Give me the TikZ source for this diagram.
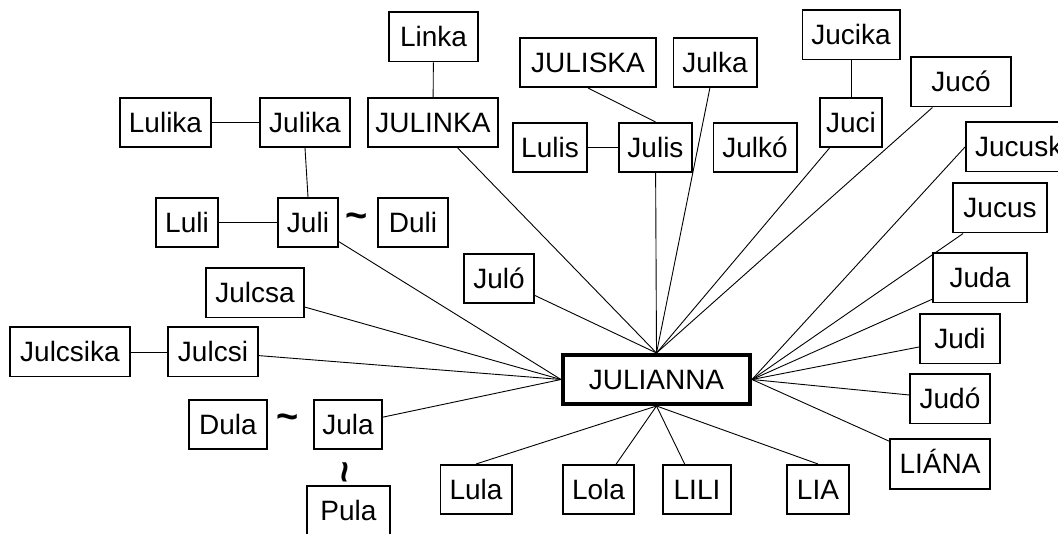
\documentclass[tikz,border=0pt]{standalone}
\usepackage{fontspec}
\setmainfont{Liberation Sans}
\begin{document}
\begin{tikzpicture}[x=1pt,y=-1pt,
  bx/.style={draw,line width=1.8pt,fill=white,inner sep=0pt,minimum height=49.2pt,
    font=\fontsize{28}{34}\selectfont,text height=20pt,text depth=0pt},
  conn/.style={line width=0.9pt},
  tl/.style={inner sep=0pt,font=\fontsize{38}{40}\selectfont\bfseries}]
\useasboundingbox (0,0) rectangle (1058,534);
\clip (0,0) rectangle (1058,534);
\newcommand\bx[5]{\node[bx,minimum width={#4pt-1.8pt}] (#1) at (#2,#3) {#5};}
% boxes
\bx{linka}{433.5}{37}{91}{Linka}
\bx{julinka}{433}{122.5}{132}{JULINKA}
\bx{juliska}{588}{62.5}{138}{JULISKA}
\bx{julka}{715}{62.5}{85}{Julka}
\bx{jucika}{851}{35}{99}{Jucika}
\bx{juci}{851}{122.5}{64}{Juci}
\bx{juco}{961}{82}{102}{Jucó}
\bx{lulika}{165.5}{122.5}{93}{Lulika}
\bx{julika}{305}{122.5}{92}{Julika}
\bx{lulis}{550}{147.5}{76}{Lulis}
\bx{julis}{655.5}{147.5}{75}{Julis}
\bx{julko}{755}{147.5}{85}{Julkó}
\bx{jucusk}{1026.5}{147}{123}{Jucuska}
\bx{jucus}{1000}{208}{96}{Jucus}
\bx{juda}{980}{278}{96}{Juda}
\bx{judi}{960}{339}{82}{Judi}
\bx{judo}{950}{399}{82}{Judó}
\bx{liana}{940}{464}{102}{LIÁNA}
\bx{luli}{187}{222.5}{64}{Luli}
\bx{juli}{308}{222.5}{62}{Juli}
\bx{duli}{413}{222.5}{72}{Duli}
\bx{julcsa}{255}{293}{100}{Julcsa}
\bx{julo}{499}{278.5}{72}{Juló}
\bx{julcsika}{70}{352}{122}{Julcsika}
\bx{julcsi}{213}{352}{92}{Julcsi}
\bx{dula}{228}{424.5}{80}{Dula}
\bx{jula}{348}{424.5}{70}{Jula}
\bx{pula}{348.5}{510.5}{85}{Pula}
\bx{lula}{476}{489.5}{73}{Lula}
\bx{lola}{598.5}{489.5}{73}{Lola}
\bx{lili}{697}{489.5}{70}{LILI}
\bx{lia}{818}{489.5}{64}{LIA}
\node[bx,line width=4pt,minimum width=187pt,minimum height=49pt] (jn) at (656.5,379.5) {JULIANNA};
% tildes
\node[tl] (t1) at (357,221) {\textasciitilde};
\node[tl] (t2) at (288,422) {\textasciitilde};
\node[tl,rotate=90] (t3) at (350,472) {\textasciitilde};
% side connectors
\draw[conn] (linka) -- (julinka);
\draw[conn] (lulika) -- (julika);
\draw[conn] (julika.south) -- (juli.north);
\draw[conn] (luli) -- (juli);
\draw[conn] (lulis) -- (julis);
\draw[conn] (juliska.south) -- (julis.north);
\draw[conn] (jucika) -- (juci);
\draw[conn] (julcsika) -- (julcsi);
% to JULIANNA top
\foreach \n in {julinka,julo,julis,julka,juci,juco}
  \draw[conn] (\n) -- (jn.north);
% right
\draw[conn] (jucusk.west) -- (jn.east);
\foreach \n in {jucus,juda,judi,judo,liana}
  \draw[conn] (\n) -- (jn.east);
% left
\foreach \n in {juli,julcsa,julcsi,jula}
  \draw[conn] (\n) -- (jn.west);
% bottom
\foreach \n in {lola,lili}
  \draw[conn] (\n) -- (jn.south);
\draw[conn] (lula.north) -- (jn.south);
\draw[conn] (lia.north) -- (jn.south);
\end{tikzpicture}
\end{document}
